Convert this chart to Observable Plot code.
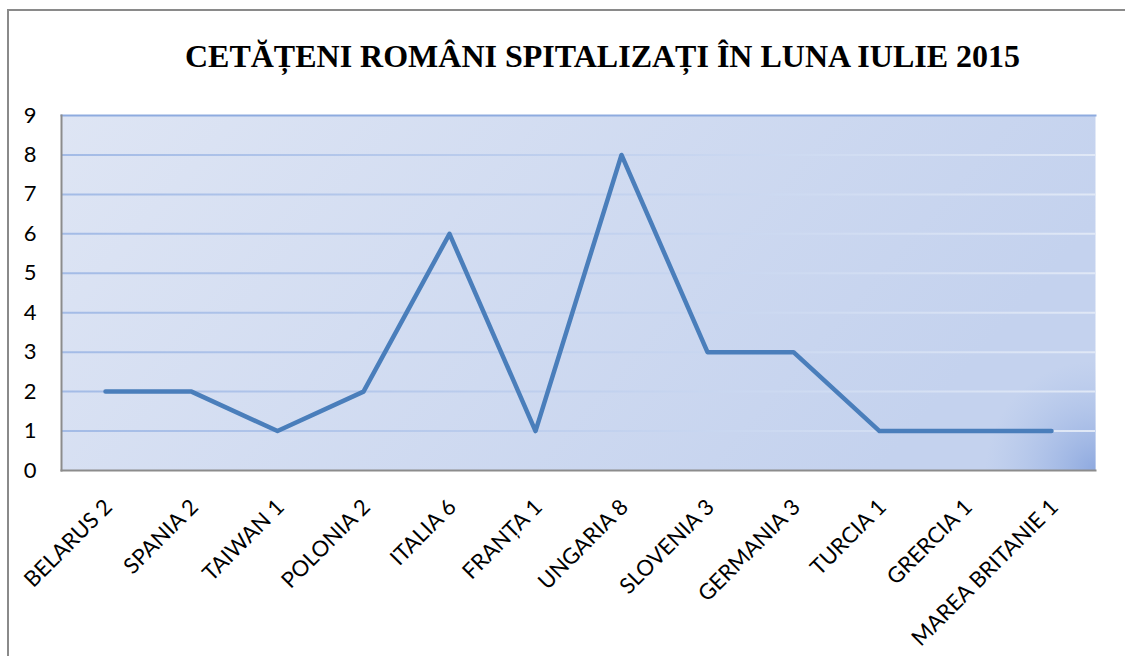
<!DOCTYPE html>
<html>
<head>
<meta charset="utf-8">
<script src="https://cdn.jsdelivr.net/npm/d3@7"></script>
<script src="https://cdn.jsdelivr.net/npm/@observablehq/plot@0.6"></script>
<style>
  html, body { margin: 0; padding: 0; background: #fff; overflow: hidden; }
  #page { position: relative; width: 1125px; height: 656px; }
  #frame { position: absolute; left: 7px; top: 9px; width: 1200px; height: 700px; border: 2px solid #8a8a8a; box-sizing: border-box; }
  #title { position: absolute; left: 0; top: 38px; width: 1205px; text-align: center; font-family: "Liberation Serif", serif; font-weight: bold; font-size: 32px; color: #000; white-space: nowrap; }
  #chart { position: absolute; left: 0; top: 95px; }
</style>
</head>
<body>
<div id="page">
  <div id="frame"></div>
  <div id="title">CETĂȚENI ROMÂNI SPITALIZAȚI ÎN LUNA IULIE 2015</div>
  <div id="chart"></div>
</div>
<script>
const countries = ["BELARUS", "SPANIA", "TAIWAN", "POLONIA", "ITALIA", "FRANȚA", "UNGARIA", "SLOVENIA", "GERMANIA", "TURCIA", "GRERCIA", "MAREA BRITANIE"];
const values = [2, 2, 1, 2, 6, 1, 8, 3, 3, 1, 1, 1];
const yTicks = [0, 1, 2, 3, 4, 5, 6, 7, 8, 9];

const data = countries.map((c, i) => ({label: c + " " + values[i], value: values[i]}));
const labels = data.map(d => d.label);

const W = 1125, H = 561;
const plot = Plot.plot({
  width: W,
  height: H,
  marginLeft: 61,
  marginRight: 30,
  marginTop: 20,
  marginBottom: 186,
  style: {fontFamily: "Lato, 'Open Sans', sans-serif", fontSize: "22px", color: "#000", background: "transparent"},
  x: {type: "point", domain: labels, padding: 0.5, axis: null},
  y: {domain: [0, 9], ticks: yTicks, axis: null},
  marks: [
    Plot.frame({fill: "url(#bgLin)", stroke: "none"}),
    Plot.frame({fill: "url(#bgRad)", stroke: "none"}),
    Plot.ruleY(yTicks.filter(t => t > 0 && t < 9), {stroke: "url(#gridGrad)", strokeWidth: 2}),
    Plot.frame({anchor: "top", stroke: "#8eabdf", strokeWidth: 2}),
    Plot.frame({anchor: "left", stroke: "#8c8c8c", strokeWidth: 2}),
    Plot.frame({anchor: "bottom", stroke: "#8c8c8c", strokeWidth: 2}),
    Plot.axisY({ticks: yTicks, tickSize: 0, tickPadding: 25, fontSize: 22, label: null}),
    Plot.line(data, {x: "label", y: "value", stroke: "#4a7ebb", strokeWidth: 4.5, strokeLinecap: "round", strokeLinejoin: "round"}),
    Plot.text(data, {x: "label", text: "label", frameAnchor: "bottom", rotate: -45, textAnchor: "end", lineAnchor: "middle", dx: 3, dy: 33, fontSize: 22, fill: "#000"})
  ]
});

const svg = d3.select(plot);
const defs = svg.insert("defs", ":first-child");
const lin = defs.append("linearGradient").attr("id", "bgLin").attr("x1", "0").attr("y1", "0").attr("x2", "1").attr("y2", "0.3");
lin.append("stop").attr("offset", "0").attr("stop-color", "#dee5f4");
lin.append("stop").attr("offset", "1").attr("stop-color", "#c4d2ee");
const rad = defs.append("radialGradient").attr("id", "bgRad").attr("gradientUnits", "userSpaceOnUse")
  .attr("cx", W - 30).attr("cy", H - 186).attr("r", 110);
rad.append("stop").attr("offset", "0").attr("stop-color", "#8ea9df").attr("stop-opacity", 1);
rad.append("stop").attr("offset", "1").attr("stop-color", "#a9bfe8").attr("stop-opacity", 0);
const gg = defs.append("linearGradient").attr("id", "gridGrad").attr("gradientUnits", "userSpaceOnUse")
  .attr("x1", 61).attr("y1", 0).attr("x2", W - 30).attr("y2", 0);
gg.append("stop").attr("offset", "0").attr("stop-color", "#a3bbe6");
gg.append("stop").attr("offset", "0.5").attr("stop-color", "#c0d0ee");
gg.append("stop").attr("offset", "1").attr("stop-color", "#e0e8f6");

document.getElementById("chart").appendChild(plot);
</script>
</body>
</html>
